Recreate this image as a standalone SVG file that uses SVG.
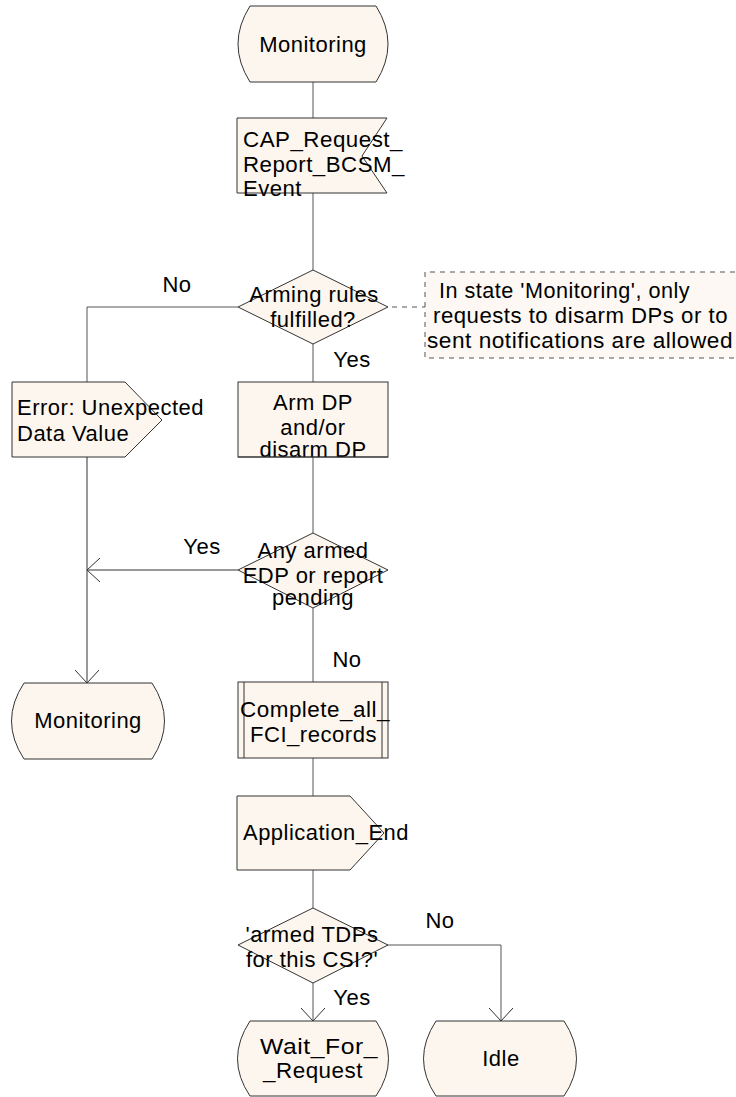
<svg xmlns="http://www.w3.org/2000/svg" width="736" height="1097" viewBox="0 0 736 1097">
<defs>
<style>
.shape{fill:#fdf6ee;stroke:#333;stroke-width:1}
.line{fill:none;stroke:#555;stroke-width:1}
.arrow{fill:none;stroke:#333;stroke-width:1}
.dash{fill:none;stroke:#555;stroke-width:1;stroke-dasharray:5,5}
text{font-family:"Liberation Sans",Arial,sans-serif;font-size:22px;letter-spacing:0.5px;fill:#000}
.c{text-anchor:middle}
</style>
<marker id="ah" viewBox="0 0 13 24" refX="13" refY="12" markerWidth="13" markerHeight="24" markerUnits="userSpaceOnUse" orient="auto">
<path d="M0,0 L13,12 L0,24" fill="none" stroke="#333" stroke-width="1"/>
</marker>
</defs>
<rect width="736" height="1097" fill="#fff"/>

<g id="connectors">
<line class="line" x1="313" y1="82" x2="313" y2="118"/>
<line class="line" x1="313" y1="193" x2="313" y2="270"/>
<line class="line" x1="313" y1="344" x2="313" y2="382"/>
<polyline class="line" points="238,307 87,307 87,382"/>
<line class="line" x1="313" y1="457" x2="313" y2="533"/>
<line class="arrow" x1="87" y1="457" x2="87" y2="683" marker-end="url(#ah)"/>
<line class="arrow" x1="238" y1="570" x2="87" y2="570" marker-end="url(#ah)"/>
<line class="line" x1="313" y1="608" x2="313" y2="682"/>
<line class="line" x1="313" y1="758" x2="313" y2="796"/>
<line class="line" x1="313" y1="870" x2="313" y2="908"/>
<line class="line" x1="313" y1="983" x2="313" y2="1021" marker-end="url(#ah)"/>
<polyline class="line" points="387,945 501,945 501,1021" marker-end="url(#ah)"/>
<line class="dash" x1="392" y1="307" x2="425" y2="307"/>
<text x="177" y="292" class="c">No</text>
<text x="352" y="367" class="c">Yes</text>
<text x="202" y="554" class="c">Yes</text>
<text x="347" y="667" class="c">No</text>
<text x="440" y="928" class="c">No</text>
<text x="352" y="1005" class="c">Yes</text>
</g>

<g id="monitoring_top">
<path class="shape" d="M250,6 L376,6 Q400,44 376,82 L250,82 Q226,44 250,6 Z"/>
<text x="313" y="52" class="c">Monitoring</text>
</g>

<g id="cap_request">
<path class="shape" d="M237,118 L387,118 L362,156 L387,193 L237,193 Z"/>
<text x="243" y="147" textLength="160" lengthAdjust="spacingAndGlyphs">CAP_Request_</text>
<text x="243" y="172" textLength="162" lengthAdjust="spacingAndGlyphs">Report_BCSM_</text>
<text x="243" y="196" textLength="59" lengthAdjust="spacingAndGlyphs">Event</text>
</g>

<g id="arming_rules">
<path class="shape" d="M313,270 L388,307 L313,344 L238,307 Z"/>
<text x="314" y="302" class="c">Arming rules</text>
<text x="313" y="327" class="c">fulfilled?</text>
</g>

<g id="comment">
<rect x="425" y="272" width="320" height="86" fill="#fdf8f3"/>
<path class="dash" d="M745,272 H425 V358 H745"/>
<text x="439" y="298" textLength="251" lengthAdjust="spacingAndGlyphs">In state 'Monitoring', only</text>
<text x="433" y="323" textLength="295" lengthAdjust="spacingAndGlyphs">requests to disarm DPs or to</text>
<text x="427" y="348" textLength="306" lengthAdjust="spacingAndGlyphs">sent notifications are allowed</text>
</g>

<g id="error_output">
<path class="shape" d="M12,382 L125,382 L162,420 L125,457 L12,457 Z"/>
<text x="17" y="415">Error: Unexpected</text>
<text x="17" y="441">Data Value</text>
</g>

<g id="arm_dp">
<rect class="shape" x="238" y="382" width="150" height="75"/>
<text x="313" y="410" class="c">Arm DP</text>
<text x="313" y="435" class="c">and/or</text>
<text x="313" y="457" class="c">disarm DP</text>
<line x1="238" y1="457" x2="388" y2="457" stroke="#333"/>
</g>

<g id="any_armed">
<path class="shape" d="M313,533 L388,570 L313,608 L238,570 Z"/>
<text x="313" y="558" class="c">Any armed</text>
<text x="313" y="583" class="c">EDP or report</text>
<text x="313" y="605" class="c">pending</text>
</g>

<g id="monitoring_left">
<path class="shape" d="M24,683 L152,683 Q177,721 152,759 L24,759 Q-1,721 24,683 Z"/>
<text x="88" y="728" class="c">Monitoring</text>
</g>

<g id="complete_fci">
<rect class="shape" x="238" y="682" width="150" height="76"/>
<line x1="244" y1="682" x2="244" y2="758" stroke="#333"/>
<line x1="382" y1="682" x2="382" y2="758" stroke="#333"/>
<text x="240" y="717" textLength="150" lengthAdjust="spacingAndGlyphs">Complete_all_</text>
<text x="250" y="742" textLength="127" lengthAdjust="spacingAndGlyphs">FCI_records</text>
</g>

<g id="application_end">
<path class="shape" d="M237,796 L350,796 L384,833 L350,870 L237,870 Z"/>
<text x="243" y="840" textLength="166" lengthAdjust="spacingAndGlyphs">Application_End</text>
</g>

<g id="armed_tdps">
<path class="shape" d="M313,908 L388,945 L313,983 L238,945 Z"/>
<text x="312" y="942" class="c">'armed TDPs</text>
<text x="312" y="967" class="c">for this CSI?'</text>
</g>

<g id="wait_for_request">
<path class="shape" d="M250,1021 L376,1021 Q401,1059 376,1096 L250,1096 Q225,1059 250,1021 Z"/>
<text x="260" y="1054" textLength="118" lengthAdjust="spacingAndGlyphs">Wait_For_</text>
<text x="263" y="1078" textLength="100" lengthAdjust="spacingAndGlyphs">_Request</text>
</g>

<g id="idle">
<path class="shape" d="M436,1021 L564,1021 Q589,1059 564,1096 L436,1096 Q411,1059 436,1021 Z"/>
<text x="501" y="1066" class="c">Idle</text>
</g>
</svg>
